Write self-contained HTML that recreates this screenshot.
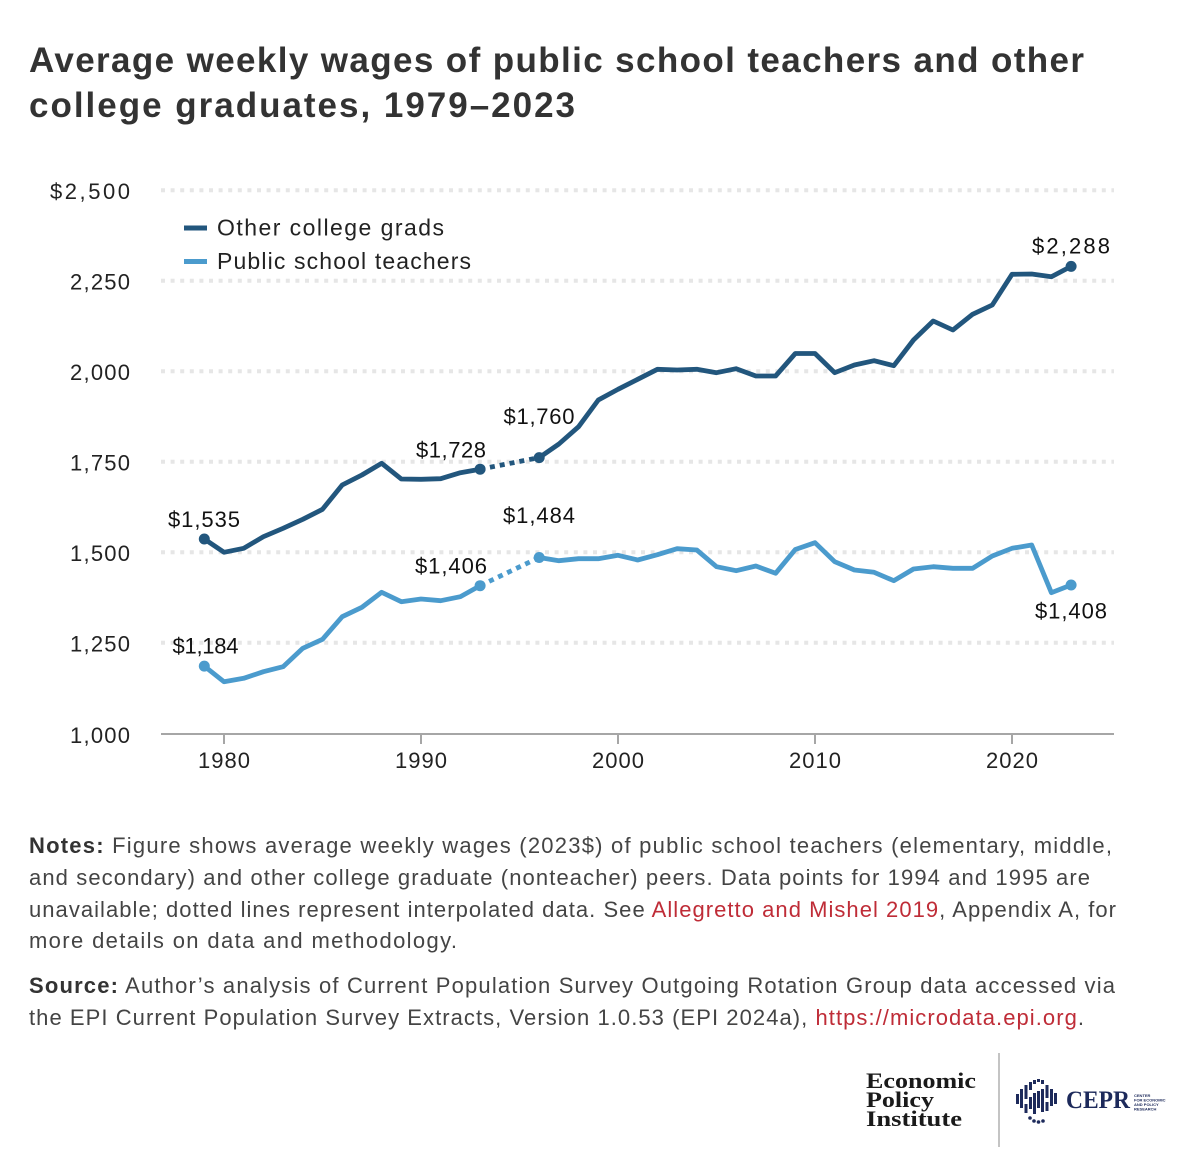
<!DOCTYPE html>
<html><head><meta charset="utf-8"><style>
html,body{margin:0;padding:0;background:#fff;}
svg{display:block;}
text{font-family:"Liberation Sans",sans-serif;}
</style></head><body>
<svg width="1180" height="1150" viewBox="0 0 1180 1150" xmlns="http://www.w3.org/2000/svg">
<rect width="1180" height="1150" fill="#fff"/>
<!-- Title -->
<text x="29" y="72" font-size="35" font-weight="bold" fill="#333" textLength="1055" lengthAdjust="spacing">Average weekly wages of public school teachers and other</text>
<text x="29" y="117" font-size="35" font-weight="bold" fill="#333" textLength="546" lengthAdjust="spacing">college graduates, 1979–2023</text>

<!-- Gridlines -->
<g stroke="#e6e6e6" stroke-width="4" stroke-dasharray="4 5.6">
<line x1="161" y1="190.2" x2="1114" y2="190.2"/>
<line x1="161" y1="280.7" x2="1114" y2="280.7"/>
<line x1="161" y1="371.2" x2="1114" y2="371.2"/>
<line x1="161" y1="461.7" x2="1114" y2="461.7"/>
<line x1="161" y1="552.2" x2="1114" y2="552.2"/>
<line x1="161" y1="642.7" x2="1114" y2="642.7"/>
</g>
<!-- Axis -->
<line x1="161" y1="734" x2="1114" y2="734" stroke="#a6a6a6" stroke-width="2"/>
<g stroke="#a6a6a6" stroke-width="2">
<line x1="224" y1="734" x2="224" y2="744"/>
<line x1="421" y1="734" x2="421" y2="744"/>
<line x1="618" y1="734" x2="618" y2="744"/>
<line x1="815" y1="734" x2="815" y2="744"/>
<line x1="1012" y1="734" x2="1012" y2="744"/>
</g>
<!-- Y labels -->
<g font-size="22" fill="#222" text-anchor="end">
<text x="130" y="199" textLength="80" lengthAdjust="spacing">$2,500</text>
<text x="130" y="289.5" textLength="60" lengthAdjust="spacing">2,250</text>
<text x="130" y="380" textLength="60" lengthAdjust="spacing">2,000</text>
<text x="130" y="470.5" textLength="60" lengthAdjust="spacing">1,750</text>
<text x="130" y="561" textLength="60" lengthAdjust="spacing">1,500</text>
<text x="130" y="651.5" textLength="60" lengthAdjust="spacing">1,250</text>
<text x="130" y="743" textLength="60" lengthAdjust="spacing">1,000</text>
</g>
<!-- X labels -->
<g font-size="22" fill="#222" text-anchor="middle">
<text x="224" y="768" textLength="52" lengthAdjust="spacing">1980</text>
<text x="421" y="768" textLength="52" lengthAdjust="spacing">1990</text>
<text x="618" y="768" textLength="52" lengthAdjust="spacing">2000</text>
<text x="815" y="768" textLength="52" lengthAdjust="spacing">2010</text>
<text x="1012" y="768" textLength="52" lengthAdjust="spacing">2020</text>
</g>

<!-- Legend -->
<line x1="184" y1="228" x2="207" y2="228" stroke="#22567d" stroke-width="5"/>
<line x1="184" y1="261.5" x2="207" y2="261.5" stroke="#4b9bcd" stroke-width="5"/>
<text x="217" y="235.5" font-size="23" fill="#222" textLength="227" lengthAdjust="spacing">Other college grads</text>
<text x="217" y="269" font-size="23" fill="#222" textLength="254" lengthAdjust="spacing">Public school teachers</text>

<!-- Dark series -->
<g fill="none" stroke="#22567d" stroke-width="4.8" stroke-linejoin="round" stroke-linecap="butt">
<polyline points="204.3,539 224,552.3 243.7,548.3 263.4,536.7 283.1,528.3 302.8,519.3 322.5,509.3 342.2,485 361.9,475 381.6,463.3 401.3,479 421,479.3 440.7,478.7 460.4,472.7 480.1,469.2"/>
<polyline points="539.2,457.6 558.9,444 578.6,426.7 598.3,400 618,389.3 637.7,379.3 657.4,369.3 677.1,370 696.8,369.3 716.5,372.7 736.2,368.7 755.9,376 775.6,376 795.3,353.5 815,353.5 834.7,372.7 854.4,365 874.1,360.7 893.8,365.7 913.5,340 933.2,321 952.9,330 972.6,314.3 992.3,305 1012,274.3 1031.7,274 1051.4,276.7 1071.1,266.4"/>
<line x1="480.1" y1="469.2" x2="539.2" y2="457.6" stroke-dasharray="5 5"/>
</g>
<g fill="#22567d">
<circle cx="204.3" cy="539" r="5.5"/>
<circle cx="480.1" cy="469.2" r="5.5"/>
<circle cx="539.2" cy="457.6" r="5.5"/>
<circle cx="1071.1" cy="266.4" r="5.5"/>
</g>

<!-- Light series -->
<g fill="none" stroke="#4b9bcd" stroke-width="4.8" stroke-linejoin="round" stroke-linecap="butt">
<polyline points="204.3,666.1 224,681.7 243.7,678.3 263.4,671.7 283.1,666.7 302.8,648.3 322.5,639.3 342.2,616.7 361.9,607.3 381.6,592.3 401.3,601.7 421,599 440.7,600.7 460.4,596.7 480.1,585.7"/>
<polyline points="539.2,557.5 558.9,560.7 578.6,558.7 598.3,558.7 618,555.3 637.7,560 657.4,554.7 677.1,548.7 696.8,550 716.5,566.7 736.2,570.7 755.9,566 775.6,573.3 795.3,549.5 815,542.7 834.7,561.7 854.4,570 874.1,572.3 893.8,580.7 913.5,569 933.2,566.7 952.9,568.3 972.6,568.3 992.3,556 1012,548.3 1031.7,545 1051.4,592.7 1071.1,585"/>
<line x1="480.1" y1="585.7" x2="539.2" y2="557.5" stroke-dasharray="5 5"/>
</g>
<g fill="#4b9bcd">
<circle cx="204.3" cy="666.1" r="5.5"/>
<circle cx="480.1" cy="585.7" r="5.5"/>
<circle cx="539.2" cy="557.5" r="5.5"/>
<circle cx="1071.1" cy="585" r="5.5"/>
</g>

<!-- Data labels -->
<g font-size="22" fill="#111" text-anchor="middle">
<text x="204" y="527" textLength="72" lengthAdjust="spacing">$1,535</text>
<text x="451" y="457.5" textLength="70" lengthAdjust="spacing">$1,728</text>
<text x="539" y="424" textLength="71" lengthAdjust="spacing">$1,760</text>
<text x="539" y="523" textLength="72" lengthAdjust="spacing">$1,484</text>
<text x="451" y="573.5" textLength="72" lengthAdjust="spacing">$1,406</text>
<text x="205.5" y="653.5" textLength="66" lengthAdjust="spacing">$1,184</text>
<text x="1071" y="253.5" textLength="78" lengthAdjust="spacing">$2,288</text>
<text x="1071" y="618.5" textLength="72" lengthAdjust="spacing">$1,408</text>
</g>

<!-- Notes -->
<g font-size="22" fill="#444">
<text x="29" y="853" textLength="1083" lengthAdjust="spacing"><tspan font-weight="bold" fill="#333">Notes:</tspan> Figure shows average weekly wages (2023$) of public school teachers (elementary, middle,</text>
<text x="29" y="885" textLength="1061" lengthAdjust="spacing">and secondary) and other college graduate (nonteacher) peers. Data points for 1994 and 1995 are</text>
<text x="29" y="917" textLength="1087" lengthAdjust="spacing">unavailable; dotted lines represent interpolated data. See <tspan fill="#bf2c37">Allegretto and Mishel 2019</tspan>, Appendix A, for</text>
<text x="29" y="948" textLength="428" lengthAdjust="spacing">more details on data and methodology.</text>
<text x="29" y="993" textLength="1086" lengthAdjust="spacing"><tspan font-weight="bold" fill="#333">Source:</tspan> Author’s analysis of Current Population Survey Outgoing Rotation Group data accessed via</text>
<text x="29" y="1025" textLength="1055" lengthAdjust="spacing">the EPI Current Population Survey Extracts, Version 1.0.53 (EPI 2024a), <tspan fill="#bf2c37">https://microdata.epi.org</tspan>.</text>
</g>

<!-- EPI logo -->
<g font-weight="bold" font-size="22" fill="#1a1a1a">
<text x="866" y="1088" textLength="110" lengthAdjust="spacingAndGlyphs" style="font-family:'Liberation Serif',serif">Economic</text>
<text x="866" y="1107" textLength="68" lengthAdjust="spacingAndGlyphs" style="font-family:'Liberation Serif',serif">Policy</text>
<text x="866" y="1126" textLength="96" lengthAdjust="spacingAndGlyphs" style="font-family:'Liberation Serif',serif">Institute</text>
</g>
<line x1="999" y1="1053" x2="999" y2="1147" stroke="#b0b0b0" stroke-width="1.5"/>

<!-- CEPR logo -->
<g fill="#1d2a5b">
<rect x="1016" y="1094" width="3" height="10"/>
<rect x="1020" y="1089" width="3" height="19"/>
<rect x="1024.5" y="1085" width="3" height="14"/>
<rect x="1024.5" y="1104" width="3" height="9"/>
<rect x="1029" y="1082" width="3" height="8"/>
<rect x="1029" y="1097" width="3" height="12"/>
<rect x="1033" y="1080" width="3" height="4"/>
<rect x="1033" y="1093" width="3" height="21"/>
<rect x="1037" y="1079" width="3" height="3"/>
<rect x="1037" y="1091" width="3" height="17"/>
<rect x="1041" y="1080" width="3" height="4"/>
<rect x="1041" y="1089" width="3" height="23"/>
<rect x="1045.5" y="1085" width="3" height="13"/>
<rect x="1045.5" y="1102" width="3" height="9"/>
<rect x="1050" y="1089" width="3" height="17"/>
<rect x="1054" y="1093" width="3" height="11"/>
<circle cx="1030" cy="1118" r="1.8"/>
<circle cx="1034" cy="1121" r="1.8"/>
<circle cx="1038.5" cy="1122" r="1.8"/>
<circle cx="1043" cy="1121" r="1.8"/>
</g>
<text x="1066" y="1108" font-size="25" font-weight="bold" fill="#1d2a5b" textLength="64" lengthAdjust="spacingAndGlyphs" style="font-family:'Liberation Serif',serif">CEPR</text>
<g font-size="4" fill="#1d2a5b" font-weight="bold">
<text x="1134" y="1097">CENTER</text>
<text x="1134" y="1101.5">FOR ECONOMIC</text>
<text x="1134" y="1106">AND POLICY</text>
<text x="1134" y="1110.5">RESEARCH</text>
</g>
</svg>
</body></html>
